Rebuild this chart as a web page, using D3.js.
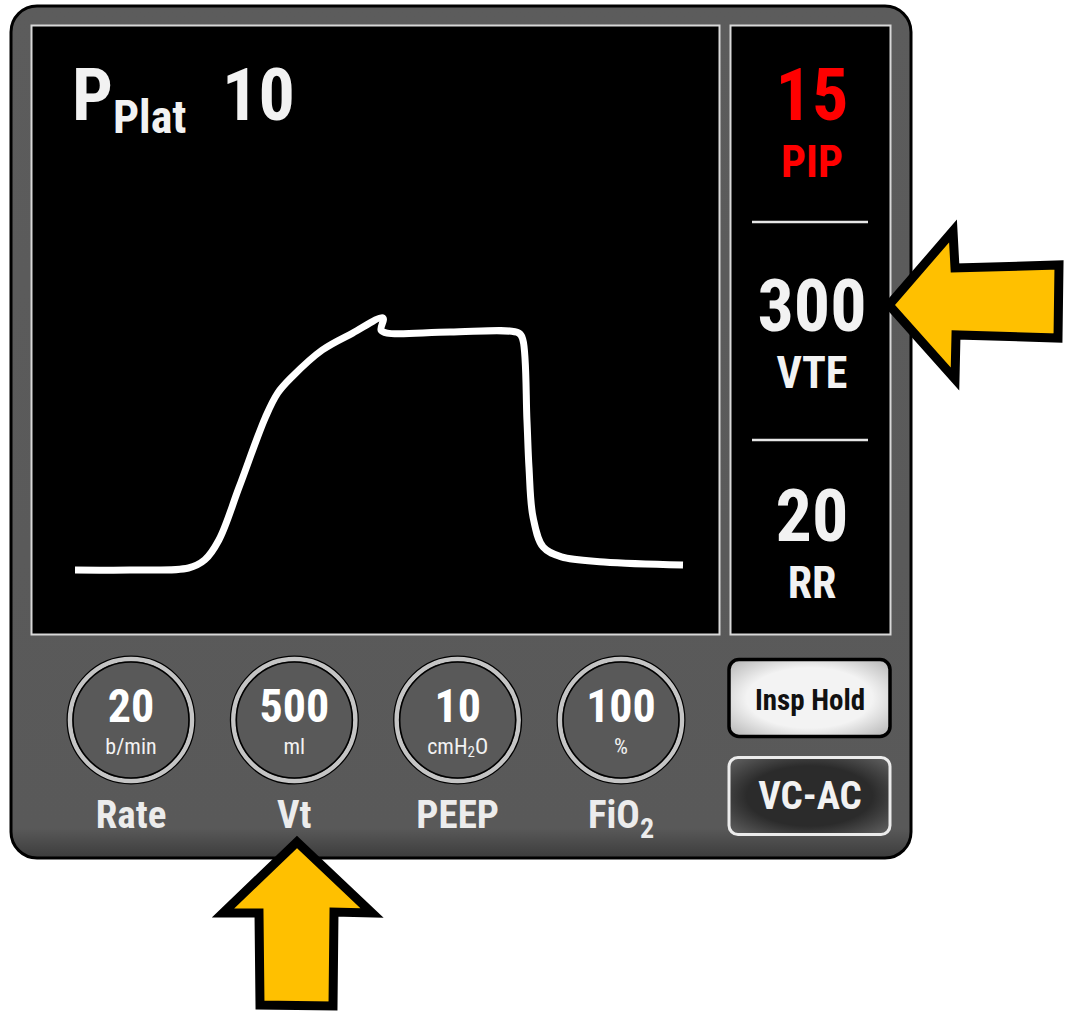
<!DOCTYPE html>
<html><head><meta charset="utf-8">
<script src="https://cdn.jsdelivr.net/npm/d3@7"></script>
<style>
html,body{margin:0;padding:0;background:#fff;}
svg{display:block;}
text{font-family:"Roboto Condensed","Liberation Sans Narrow","Arial Narrow","DejaVu Sans Condensed",sans-serif;font-weight:bold;}
</style></head>
<body>
<script>
// ---- data ----
const waveTime = [0, 0.27, 0.56, 0.64, 0.71, 0.81, 0.94, 1.00, 1.07, 1.22, 1.37, 1.52, 1.51, 1.54, 1.85, 2.19, 2.21, 2.23, 2.24, 2.26, 2.31, 2.40, 2.61, 3.0];
const wavePressure = [5.0, 5.0, 5.08, 5.4, 6.19, 8.29, 11.07, 12.02, 12.66, 13.73, 14.4, 15.0, 14.52, 14.4, 14.44, 14.4, 14.13, 10.95, 9.09, 7.1, 5.91, 5.52, 5.32, 5.2];
const platLabel = "Plat";
const platValue = "10";
const readoutLabels = ["PIP", "VTE", "RR"];
const readoutValues = ["15", "300", "20"];
const knobLabels = ["Rate", "Vt", "PEEP", "FiO2"];
const knobValues = ["20", "500", "10", "100"];
const knobUnits = ["b/min", "ml", "cmH2O", "%"];
const buttonLabels = ["Insp Hold", "VC-AC"];

const W = 1066, H = 1012;
const svg = d3.select("body").append("svg").attr("width", W).attr("height", H);
const defs = svg.append("defs");

const devGrad = defs.append("linearGradient").attr("id","devGrad").attr("x1",0).attr("y1",0).attr("x2",0).attr("y2",1);
devGrad.append("stop").attr("offset","0").attr("stop-color","#5c5c5c");
devGrad.append("stop").attr("offset","0.965").attr("stop-color","#595959");
devGrad.append("stop").attr("offset","1").attr("stop-color","#3c3c3c");

const lightBtn = defs.append("radialGradient").attr("id","lightBtn").attr("cx","50%").attr("cy","50%").attr("r","65%");
lightBtn.append("stop").attr("offset","0.6").attr("stop-color","#f3f3f3");
lightBtn.append("stop").attr("offset","1").attr("stop-color","#bdbdbd");
const darkBtn = defs.append("radialGradient").attr("id","darkBtn").attr("cx","50%").attr("cy","50%").attr("r","65%");
darkBtn.append("stop").attr("offset","0.6").attr("stop-color","#2b2b2b");
darkBtn.append("stop").attr("offset","1").attr("stop-color","#5a5a5a");

// device body
svg.append("rect").attr("x",11).attr("y",6).attr("width",900).attr("height",852).attr("rx",26)
  .attr("fill","url(#devGrad)").attr("stroke","#000").attr("stroke-width",3);

// screens
svg.append("rect").attr("x",31.5).attr("y",25.5).attr("width",688).attr("height",609)
  .attr("fill","#000").attr("stroke","#d8d8d8").attr("stroke-width",2);
svg.append("rect").attr("x",730.5).attr("y",25.5).attr("width",160).attr("height",609)
  .attr("fill","#000").attr("stroke","#d8d8d8").attr("stroke-width",2);

// Pplat label
const pp = svg.append("text").attr("x",72).attr("y",120).attr("fill","#f2f2f2");
pp.append("tspan").attr("font-size",72).text("P");
pp.append("tspan").attr("font-size",46).attr("dx",0).attr("dy",13).text(platLabel);
svg.append("text").attr("x",222).attr("y",120).attr("font-size",72).attr("fill","#f2f2f2").text(platValue);

// waveform
const x = d3.scaleLinear().domain([0, 3]).range([75, 683]);
const y = d3.scaleLinear().domain([0, 15]).range([696, 318]);
const line = d3.line().x((d,i)=>x(waveTime[i])).y((d,i)=>y(wavePressure[i])).curve(d3.curveCatmullRom.alpha(0.5));
svg.append("path").datum(waveTime).attr("d", line).attr("fill","none")
  .attr("stroke","#fff").attr("stroke-width",7).attr("stroke-linejoin","round");

// side readouts
const ry = d3.scalePoint().domain(readoutLabels).range([120, 541]);
const rd = svg.selectAll("g.readout").data(readoutLabels).join("g").attr("class","readout");
rd.append("text").attr("x",812).attr("y",d=>ry(d)).attr("text-anchor","middle").attr("font-size",72)
  .attr("fill",(d,i)=>i===0?"#ff0000":"#f2f2f2").text((d,i)=>readoutValues[i]);
rd.append("text").attr("x",812).attr("y",d=>ry(d)+57).attr("text-anchor","middle").attr("font-size",44)
  .attr("fill",(d,i)=>i===0?"#ff0000":"#f2f2f2").text(d=>d);
// separators
const sepY = [222, 440];
svg.selectAll("line.sep").data(sepY).join("line").attr("class","sep")
  .attr("x1",752).attr("x2",868).attr("y1",d=>d).attr("y2",d=>d).attr("stroke","#e6e6e6").attr("stroke-width",2.5);

// knobs
const kx = d3.scalePoint().domain(knobLabels).range([131, 621]);
const kg = svg.selectAll("g.knob").data(knobLabels).join("g").attr("class","knob")
  .attr("transform", d=>`translate(${kx(d)},720)`);
kg.append("circle").attr("r",62).attr("fill","none").attr("stroke","#000").attr("stroke-width",5);
kg.append("circle").attr("r",61).attr("fill","#595959").attr("stroke","#c4c4c4").attr("stroke-width",4.5);
kg.append("circle").attr("r",58).attr("fill","none").attr("stroke","#000").attr("stroke-width",1.6);
kg.append("text").attr("y",2).attr("text-anchor","middle").attr("font-size",46).attr("fill","#fff").text((d,i)=>knobValues[i]);
kg.each(function(d,i){
  const g = d3.select(this);
  const u = knobUnits[i];
  const t = g.append("text").attr("y",34).attr("text-anchor","middle").attr("font-size",22)
    .style("font-weight","normal").attr("fill","#f2f2f2");
  if (u === "cmH2O") {
    t.append("tspan").text("cmH");
    t.append("tspan").attr("font-size",15).attr("dy",3).text("2");
    t.append("tspan").attr("dy",-3).text("O");
  } else t.text(u);
  const l = g.append("text").attr("y",108).attr("text-anchor","middle").attr("font-size",39).attr("fill","#ececec");
  if (d === "FiO2") {
    l.append("tspan").text("FiO");
    l.append("tspan").attr("font-size",28).attr("dy",10).text("2");
  } else l.text(d);
});

// buttons
const btnY = d3.scalePoint().domain(buttonLabels).range([659.5, 757.5]);
svg.append("rect").attr("x",729).attr("y",btnY("Insp Hold")).attr("width",161).attr("height",77).attr("rx",10)
  .attr("fill","url(#lightBtn)").attr("stroke","#000").attr("stroke-width",3.5);
svg.append("text").attr("x",810).attr("y",710).attr("text-anchor","middle").attr("font-size",29).attr("fill","#111").text(buttonLabels[0]);
svg.append("rect").attr("x",729).attr("y",btnY("VC-AC")).attr("width",161).attr("height",77).attr("rx",9)
  .attr("fill","url(#darkBtn)").attr("stroke","#ececec").attr("stroke-width",3);
svg.append("text").attr("x",810).attr("y",809).attr("text-anchor","middle").attr("font-size",39).attr("fill","#f2f2f2").text(buttonLabels[1]);

// arrows
const arrowR = [[889,305],[953,231],[955,268],[1059,265],[1058,338],[956,335],[955,379]];
const arrowU = [[297,842],[372,913],[334,912],[333,1006],[260,1005],[259,913],[223,913]];
[arrowR, arrowU].forEach(pts=>{
  svg.append("path").attr("d", d3.line()(pts)+"Z").attr("fill","#ffc000")
    .attr("stroke","#000").attr("stroke-width",9).attr("stroke-linejoin","miter").attr("stroke-miterlimit",6);
});
</script>
</body></html>
